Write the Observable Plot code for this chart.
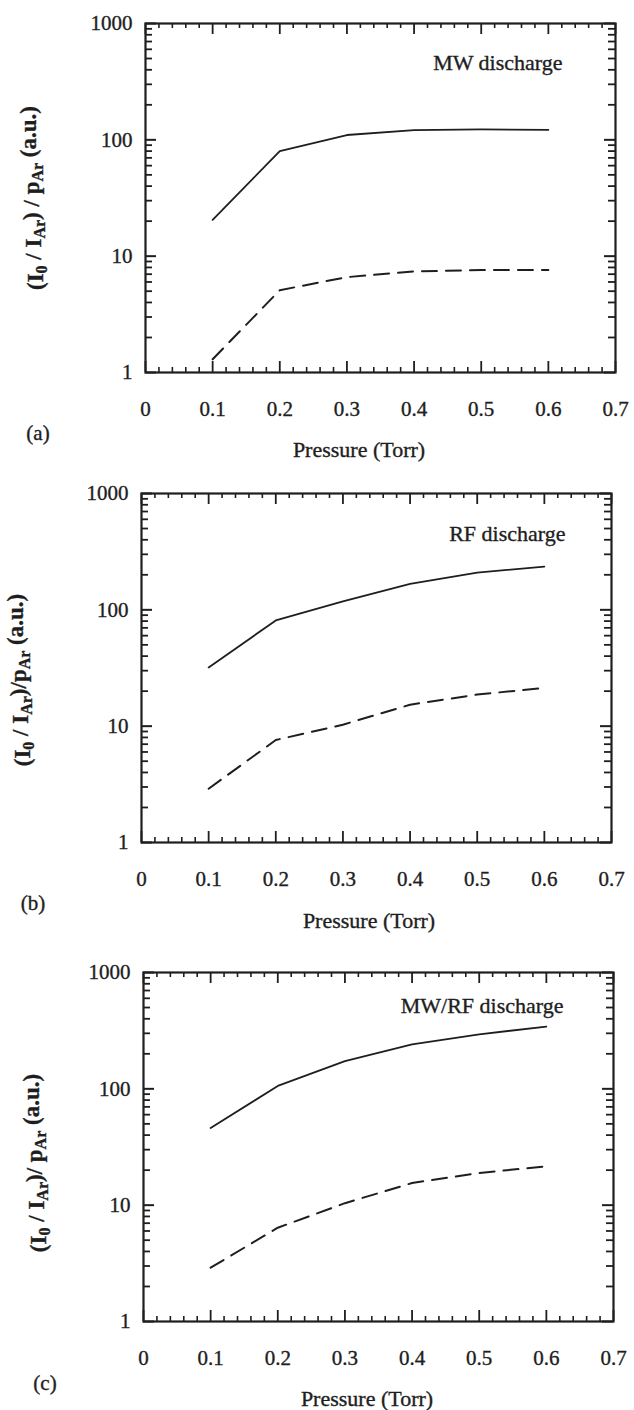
<!DOCTYPE html>
<html>
<head>
<meta charset="utf-8">
<script src="https://cdn.jsdelivr.net/npm/d3@7"></script>
<script src="https://cdn.jsdelivr.net/npm/@observablehq/plot@0.6"></script>
<style>
  html, body { margin: 0; padding: 0; background: #fff; }
  #chart { width: 634px; height: 1410px; position: relative; }
  #chart svg { display: block; }
  #chart svg text { stroke: #1e1e1e; stroke-width: 0.35px; }
</style>
</head>
<body>
<div id="chart"></div>
<script>
// ---- data ----
const pressure = [0.1, 0.2, 0.3, 0.4, 0.5, 0.6];

const mwSolid   = [20.5, 80, 110, 121, 123, 122];
const mwDashed  = [1.3, 5.1, 6.6, 7.4, 7.6, 7.6];

const rfSolid   = [32, 81, 118, 167, 209, 235];
const rfDashed  = [2.9, 7.6, 10.3, 15.3, 18.7, 21.3];

const mwrfSolid  = [46, 106, 173, 241, 294, 343];
const mwrfDashed = [2.9, 6.4, 10.4, 15.5, 18.9, 21.6];

const xTicks = [0, 0.1, 0.2, 0.3, 0.4, 0.5, 0.6, 0.7];
const yTicks = [1, 10, 100, 1000];
const titles = ["MW discharge", "RF discharge", "MW/RF discharge"];
const tags = ["(a)", "(b)", "(c)"];
const xLabel = "Pressure (Torr)";
const yLabelParts = [
  [["(I", 0], ["0", 1], [" / I", 0], ["Ar", 1], [") / p", 0], ["Ar", 1], [" (a.u.)", 0]],
  [["(I", 0], ["0", 1], [" / I", 0], ["Ar", 1], [")/p", 0], ["Ar", 1], [" (a.u.)", 0]],
  [["(I", 0], ["0", 1], [" / I", 0], ["Ar", 1], [")/ p", 0], ["Ar", 1], [" (a.u.)", 0]]
];

// minor tick positions
const xMinor = d3.range(0, 71, 2).map(v => v / 100).filter(v => Math.round(v * 100) % 10 !== 0);
const yMinor = [1, 10, 100].flatMap(d => d3.range(2, 10).map(k => k * d));

const ink = "#1e1e1e";

const panels = [
  {solid: mwSolid, dashed: mwDashed, mt: 23, mb: 98, ml: 145, mr: 19,
   tdx: -53, tdy: 39, ylx: 38, yly: 198, tagx: 38, tagy: 435, px: 359, py: 452},
  {solid: rfSolid, dashed: rfDashed, mt: 23, mb: 98, ml: 141, mr: 23,
   tdx: -46, tdy: 40, ylx: 25, yly: 210, tagx: 33, tagy: 435, px: 369, py: 453},
  {solid: mwrfSolid, dashed: mwrfDashed, mt: 32, mb: 89, ml: 143, mr: 21,
   tdx: -50, tdy: 33, ylx: 41, yly: 223, tagx: 45, tagy: 445, px: 367, py: 461}
];

const H = 470, W = 634;
const root = document.getElementById("chart");

panels.forEach((p, i) => {
  const fh = H - p.mt - p.mb;
  const fw = W - p.ml - p.mr;
  const solidData = pressure.map((x, j) => ({x, y: p.solid[j]}));
  const dashedData = pressure.map((x, j) => ({x, y: p.dashed[j]}));

  const svg = Plot.plot({
    width: W, height: H,
    marginTop: p.mt, marginBottom: p.mb, marginLeft: p.ml, marginRight: p.mr,
    style: {fontFamily: "'Liberation Serif', 'DejaVu Serif', serif", fontSize: "21px", color: ink, background: "#fff"},
    x: {domain: [0, 0.7]},
    y: {type: "log", domain: [1, 1000]},
    marks: [
      // inward ticks: bottom & top
      Plot.tickX(xMinor, {x: d => d, insetTop: fh - 5, stroke: ink, strokeWidth: 1.6}),
      Plot.tickX(xMinor, {x: d => d, insetBottom: fh - 5, stroke: ink, strokeWidth: 1.6}),
      Plot.tickX(xTicks, {x: d => d, insetTop: fh - 11, stroke: ink, strokeWidth: 1.8}),
      Plot.tickX(xTicks, {x: d => d, insetBottom: fh - 11, stroke: ink, strokeWidth: 1.8}),
      // inward ticks: left & right
      Plot.tickY(yMinor, {y: d => d, insetRight: fw - 7, stroke: ink, strokeWidth: 1.8}),
      Plot.tickY(yMinor, {y: d => d, insetLeft: fw - 7, stroke: ink, strokeWidth: 1.8}),
      Plot.tickY(yTicks, {y: d => d, insetRight: fw - 11, stroke: ink, strokeWidth: 2}),
      Plot.tickY(yTicks, {y: d => d, insetLeft: fw - 11, stroke: ink, strokeWidth: 2}),
      Plot.frame({stroke: ink, strokeWidth: 2.2}),
      Plot.axisX({ticks: xTicks, tickSize: 0, tickPadding: 29, label: null,
                  tickFormat: d => String(d), fontSize: 21}),
      Plot.axisY({ticks: yTicks, tickSize: 0, tickPadding: 13, label: null,
                  tickFormat: d3.format("d"), fontSize: 21}),
      Plot.line(solidData, {x: "x", y: "y", stroke: ink, strokeWidth: 1.8}),
      Plot.line(dashedData, {x: "x", y: "y", stroke: ink, strokeWidth: 2, strokeDasharray: "15,9"}),
      Plot.text([titles[i]], {text: d => d, frameAnchor: "top-right", textAnchor: "end",
                  lineAnchor: "middle", dx: p.tdx, dy: p.tdy, fontSize: 22, fill: ink})
    ]
  });

  const s = d3.select(svg);
  // y-axis label with subscripts
  const t = s.append("text")
    .attr("transform", `translate(${p.ylx},${p.yly}) rotate(-90)`)
    .attr("text-anchor", "middle")
    .attr("dominant-baseline", "middle")
    .attr("fill", ink)
    .style("font-weight", "bold")
    .style("font-size", "23px");
  let shifted = false;
  yLabelParts[i].forEach(([str, sub]) => {
    const ts = t.append("tspan").text(str);
    if (sub && !shifted) { ts.attr("dy", "0.32em").style("font-size", "16px"); shifted = true; }
    else if (sub) { ts.style("font-size", "16px"); }
    else if (!sub && shifted) { ts.attr("dy", "-0.32em"); shifted = false; }
  });
  // panel tag
  s.append("text").attr("x", p.tagx).attr("y", p.tagy)
    .attr("text-anchor", "middle").attr("dominant-baseline", "middle")
    .attr("fill", ink).style("font-size", "21px").text(tags[i]);
  // x-axis label
  s.append("text").attr("x", p.px).attr("y", p.py)
    .attr("text-anchor", "middle").attr("dominant-baseline", "middle")
    .attr("fill", ink).style("font-size", "22px")
    .text(xLabel);

  root.appendChild(svg);
});
</script>
</body>
</html>
